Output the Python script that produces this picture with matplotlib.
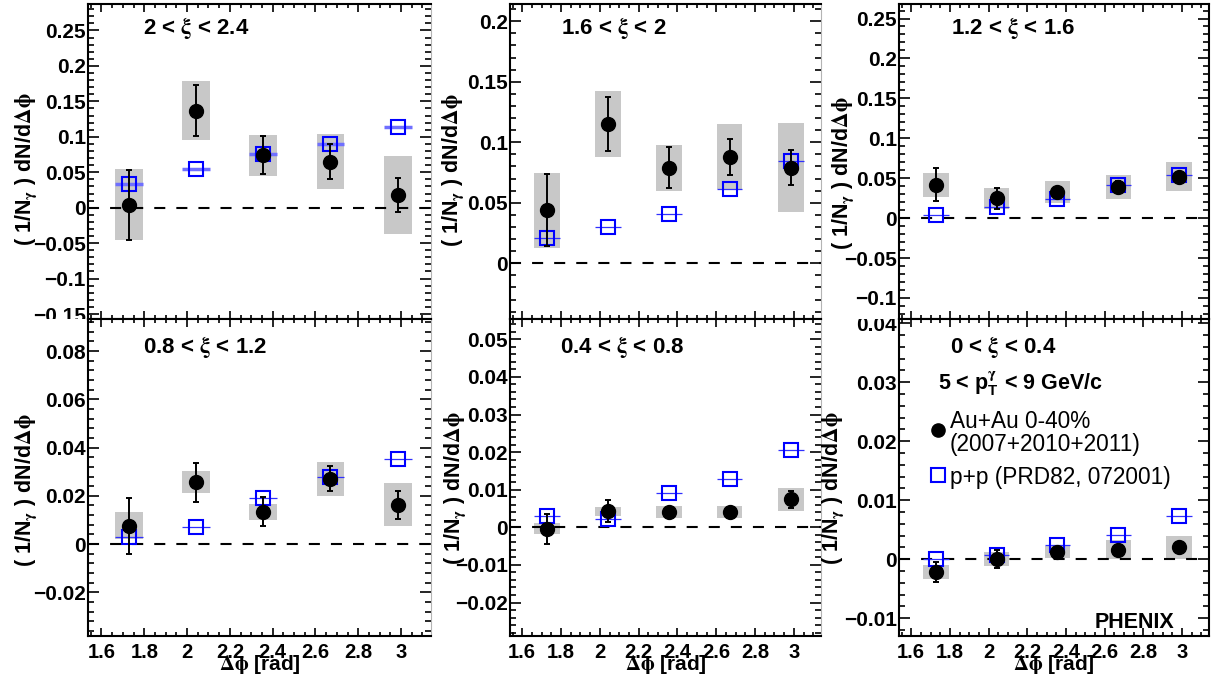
import matplotlib
matplotlib.use("Agg")
import matplotlib.pyplot as plt
from matplotlib.ticker import MultipleLocator, FuncFormatter
from matplotlib.transforms import Bbox, TransformedBbox
import numpy as np

plt.rcParams['mathtext.fontset'] = 'stix'
plt.rcParams['font.family'] = ['Liberation Sans', 'DejaVu Sans']
plt.rcParams['font.weight'] = 'bold'

# ---------------- data ----------------
dphi = [1.728, 2.042, 2.356, 2.670, 2.985]
box_halfwidth = 0.065

xi_labels = ["2 < $\\mathrm{\\xi}$ < 2.4", "1.6 < $\\mathrm{\\xi}$ < 2", "1.2 < $\\mathrm{\\xi}$ < 1.6",
             "0.8 < $\\mathrm{\\xi}$ < 1.2", "0.4 < $\\mathrm{\\xi}$ < 0.8", "0 < $\\mathrm{\\xi}$ < 0.4"]

# 2 < xi < 2.4
auau_1 = [0.004, 0.137, 0.074, 0.065, 0.018]
stat_1 = [0.049, 0.036, 0.027, 0.025, 0.024]
sys_1 = [0.050, 0.041, 0.029, 0.039, 0.055]
pp_1 = [0.033, 0.055, 0.076, 0.090, 0.114]

# 1.6 < xi < 2
auau_2 = [0.044, 0.115, 0.079, 0.088, 0.079]
stat_2 = [0.030, 0.0225, 0.017, 0.015, 0.0145]
sys_2 = [0.031, 0.027, 0.019, 0.0267, 0.037]
pp_2 = [0.0207, 0.0303, 0.0406, 0.0612, 0.0844]

# 1.2 < xi < 1.6
auau_3 = [0.042, 0.0247, 0.0326, 0.0393, 0.0518]
stat_3 = [0.021, 0.0136, 0.005, 0.007, 0.004]
sys_3 = [0.015, 0.0136, 0.0134, 0.015, 0.018]
pp_3 = [0.0042, 0.0138, 0.0234, 0.0414, 0.0543]

# 0.8 < xi < 1.2
auau_4 = [0.0076, 0.0256, 0.0134, 0.0271, 0.0164]
stat_4 = [0.0117, 0.008, 0.006, 0.0053, 0.0058]
sys_4 = [0.0055, 0.0046, 0.0034, 0.007, 0.0089]
pp_4 = [0.0030, 0.0069, 0.0189, 0.0276, 0.0352]

# 0.4 < xi < 0.8
auau_5 = [-0.0004, 0.0043, 0.0041, 0.0041, 0.0074]
stat_5 = [0.0040, 0.0029, 0.0006, 0.0006, 0.0023]
sys_5 = [0.0015, 0.0012, 0.0017, 0.0017, 0.0031]
pp_5 = [0.0030, 0.0021, 0.0092, 0.0129, 0.0206]

# 0 < xi < 0.4
auau_6 = [-0.0021, 0.0000, 0.0012, 0.0016, 0.0020]
stat_6 = [0.0017, 0.0015, 0.0006, 0.0006, 0.0010]
sys_6 = [0.0012, 0.0012, 0.0010, 0.0016, 0.0019]
pp_6 = [0.0000, 0.0008, 0.0024, 0.0041, 0.0073]

auau_all = [auau_1, auau_2, auau_3, auau_4, auau_5, auau_6]
stat_all = [stat_1, stat_2, stat_3, stat_4, stat_5, stat_6]
sys_all = [sys_1, sys_2, sys_3, sys_4, sys_5, sys_6]
pp_all = [pp_1, pp_2, pp_3, pp_4, pp_5, pp_6]

# ---------------- layout ----------------
W, H = 1216, 679
fig = plt.figure(figsize=(W / 100, H / 100), dpi=100)

def fx(px):
    return px / W

def fy(py):
    return 1 - py / H

ROW_SPLIT = 319
boxes_px = [(88, 3.5, 431, ROW_SPLIT), (510, 3.5, 821, ROW_SPLIT), (899, 3.5, 1209, ROW_SPLIT),
            (88, ROW_SPLIT, 431, 636), (510, ROW_SPLIT, 821, 636), (899, ROW_SPLIT, 1209, 636)]
xlim = (1.537, 3.140)
ylims = [(-0.157, 0.288), (-0.0461, 0.2147), (-0.1263, 0.2688),
         (-0.0381, 0.0933), (-0.0289, 0.0554), (-0.0130, 0.0407)]
ymajor = [0.05, 0.05, 0.05, 0.02, 0.01, 0.01]

title_pos = [(143, 34), (561, 34), (951, 34), (143, 353.5), (560, 353.5), (950, 353.5)]
ylabel_pos = [(26, 169), (453, 170), (843, 173), (26, 490), (455, 488), (833, 488)]

def tickfmt(v, pos):
    v = round(v, 6)
    if abs(v) < 1e-9:
        return "0"
    return f"{v:g}".replace("-", "\u2212")

ylabel_text = "( 1/$\\mathregular{N}_{\\mathrm{\\gamma}}$ ) dN/d$\\mathrm{\\Delta\\phi}$"

axes = []
for i in range(6):
    l, t, r, b = boxes_px[i]
    ax = fig.add_axes([fx(l), fy(b), fx(r) - fx(l), fy(t) - fy(b)])
    axes.append(ax)
    auau = np.array(auau_all[i])
    stat = np.array(stat_all[i])
    sys_ = np.array(sys_all[i])
    pp = np.array(pp_all[i])

    ax.bar(dphi, 2 * sys_, bottom=auau - sys_, width=2 * box_halfwidth,
           color='#c8c8c8', edgecolor='none', zorder=1)
    ax.axhline(0, color='black', lw=1.5, dashes=(5.3, 5.3), zorder=2)
    if i == 0:
        ax.errorbar(dphi, pp, xerr=box_halfwidth, fmt='none', ecolor='#6f6fff',
                    elinewidth=2.5, capsize=0, zorder=3)
    else:
        ax.errorbar(dphi, pp, xerr=box_halfwidth, fmt='none', ecolor='#3030ff',
                    elinewidth=0.9, capsize=0, zorder=3)
    ax.plot(dphi, pp, 's', mfc='none', mec='#0000ff', mew=1.5, ms=10, zorder=4)
    ax.errorbar(dphi, auau, yerr=stat, fmt='none', ecolor='black', elinewidth=1.4,
                capsize=2.2, capthick=1.4, zorder=5)
    ax.plot(dphi, auau, 'o', color='black', ms=10, zorder=6)

    ax.set_xlim(*xlim)
    ax.set_ylim(*ylims[i])
    ax.xaxis.set_major_locator(MultipleLocator(0.2))
    ax.xaxis.set_minor_locator(MultipleLocator(0.05))
    ax.yaxis.set_major_locator(MultipleLocator(ymajor[i]))
    ax.yaxis.set_minor_locator(MultipleLocator(ymajor[i] / 5))
    ax.xaxis.set_major_formatter(FuncFormatter(tickfmt))
    ax.yaxis.set_major_formatter(FuncFormatter(tickfmt))

    ax.tick_params(axis='both', which='both', direction='in', top=True, right=True,
                   width=1.2, colors='black')
    ax.tick_params(axis='x', which='major', length=5.5, pad=5, labelsize=14.5)
    ax.tick_params(axis='x', which='minor', length=3)
    ax.tick_params(axis='y', which='major', length=8, pad=1.5, labelsize=15)
    ax.tick_params(axis='y', which='minor', length=4.5)
    if i < 3:
        ax.tick_params(axis='x', labelbottom=False)

    for side in ['left', 'bottom', 'top', 'right']:
        ax.spines[side].set_linewidth(1.5)
        ax.spines[side].set_color('black')
    if i in (0, 1, 3, 4):
        ax.spines['right'].set_color('#b4b4b4')
        ax.spines['right'].set_linewidth(0.8)

    tx, ty = title_pos[i]
    fig.text(fx(tx), fy(ty), xi_labels[i], fontsize=16, fontweight='bold',
             ha='left', va='baseline')
    lx, ly = ylabel_pos[i]
    fig.text(fx(lx), fy(ly), ylabel_text, fontsize=15.5, fontweight='bold',
             rotation=90, ha='center', va='center')
    if i >= 3:
        fig.text(fx((l + r) / 2), fy(665), "$\\mathrm{\\Delta\\phi}$ [rad]", fontsize=15,
                 fontweight='bold', ha='center', va='center')

# legend / annotations in last panel
fig.text(fx(938), fy(390), "5 < $\\mathregular{p}_{\\mathregular{T}}^{\\mathrm{\\gamma}}$ < 9 GeV/c",
         fontsize=15.5, fontweight='bold', ha='left', va='baseline')
ax6 = axes[5]
ax6.plot([fx(938)], [fy(429.5)], 'o', color='black', ms=9.5, transform=fig.transFigure,
         clip_on=False, zorder=7)
ax6.plot([fx(938)], [fy(475)], 's', mfc='none', mec='#0000ff', mew=1.5, ms=9.5,
         transform=fig.transFigure, clip_on=False, zorder=7)
fig.text(fx(950), fy(427.5), "Au+Au 0-40%", fontsize=16.3, fontweight='normal', ha='left', va='baseline')
fig.text(fx(950), fy(451.5), "(2007+2010+2011)", fontsize=16.3, fontweight='normal', ha='left', va='baseline')
fig.text(fx(950), fy(484), "p+p (PRD82, 072001)", fontsize=16.3, fontweight='normal', ha='left', va='baseline')
fig.text(fx(1174), fy(628), "PHENIX", fontsize=15.5, fontweight='bold', ha='right', va='baseline')

# clip tick labels to their pad (ROOT-style)
fig.canvas.draw()
top_clip = TransformedBbox(Bbox.from_extents(0, fy(ROW_SPLIT - 0.5), 1, 1), fig.transFigure)
bot_clip = TransformedBbox(Bbox.from_extents(0, 0, 1, fy(ROW_SPLIT)), fig.transFigure)
for i, ax in enumerate(axes):
    clip = top_clip if i < 3 else bot_clip
    for axis in (ax.xaxis, ax.yaxis):
        for tk in axis.get_major_ticks():
            for lab in (tk.label1, tk.label2):
                lab.set_clip_box(clip)
                lab.set_clip_on(True)

fig.savefig("out.png", dpi=100)
